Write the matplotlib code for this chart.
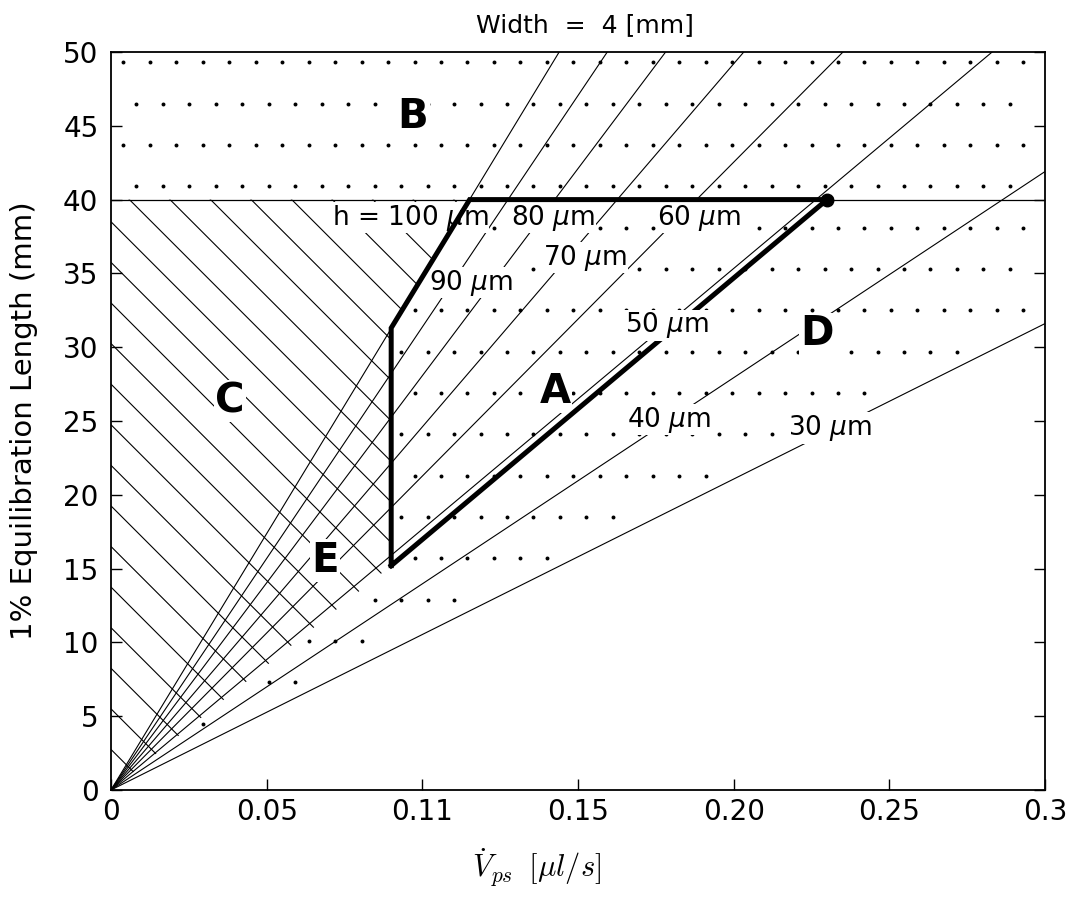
import numpy as np
import matplotlib
matplotlib.use('Agg')
import matplotlib.pyplot as plt
from matplotlib.collections import LineCollection
from matplotlib.patches import Polygon
from matplotlib.path import Path

plt.rcParams['font.family'] = 'DejaVu Sans'
plt.rcParams['mathtext.fontset'] = 'dejavusans'

# --------------------------------------------------
# DATA

# channel height of each line and the length it reaches at 0.3 ul/s
heights = [100, 90, 80, 70, 60, 50, 40, 30]
length_at_max = [104.2, 94.1, 84.2, 73.8, 63.8, 53.0, 41.9, 31.6]
flow_max = 0.3

# where each height label sits (flow, length at baseline)
label_flow = [0.096, 0.1156, 0.142, 0.1523, 0.189, 0.1786, 0.1792, 0.231]
label_len = [38.3, 33.9, 38.3, 35.6, 38.3, 31.0, 24.6, 24.05]

# length limit (horizontal line)
length_limit = 40

# operating window A (thick outline)
a_flow = [0.09, 0.09, 0.1152, 0.23, 0.09]
a_len = [15.2, 31.3, 40.0, 40.0, 15.2]

# hatched region C / E
hatch_flow = [0, 0.09, 0.09, 0.1152, 0]
hatch_len = [0, 15.2, 31.3, 40.0, 40.0]

# region letters
regions = ['A', 'B', 'C', 'D', 'E']
region_flow = [0.1426, 0.097, 0.0382, 0.2268, 0.0687]
region_len = [26.2, 44.85, 25.6, 30.15, 14.8]

xticks = [0, 0.05, 0.1, 0.15, 0.2, 0.25, 0.3]
xtick_labels = ['0', '0.05', '0.11', '0.15', '0.20', '0.25', '0.3']
yticks = list(range(0, 51, 5))

# --------------------------------------------------
# FIGURE

fig = plt.figure(figsize=(10.67, 9.17), dpi=100)
ax = fig.add_axes([0.1040, 0.1385, 0.8754, 0.8048])
ax.set_xlim(0, flow_max)
ax.set_ylim(0, 50)

# lines of constant height through the origin
for h, L in zip(heights, length_at_max):
    ax.plot([0, flow_max], [0, L], color='black', lw=0.8, zorder=2)

ax.axhline(length_limit, color='black', lw=0.9, zorder=2)

# diagonal hatch in C / E, clipped to the region
clip = Polygon(np.column_stack([hatch_flow, hatch_len]), closed=True,
               fill=False, edgecolor='none', transform=ax.transData)
ax.add_patch(clip)
k = 211.0  # slope giving 45 deg lines on screen
segs = [[(0, c), (c / k, 0)] for c in np.arange(2.75, 120, 2.75)]
lc = LineCollection(segs, colors='black', linewidths=0.8, zorder=1.5)
ax.add_collection(lc)
lc.set_clip_path(clip)

# stipple texture above the 30 um line, outside the hatch
gx, gy = [], []
for i, yy in enumerate(np.arange(49.3, 0, -2.8)):
    off = 0.0 if i % 2 == 0 else 0.0042
    for xx in np.arange(0.004 + off, 0.297, 0.0085):
        gx.append(xx)
        gy.append(yy)
gx = np.array(gx)
gy = np.array(gy)
hatch_path = Path(np.column_stack([hatch_flow, hatch_len]))
inside = hatch_path.contains_points(np.column_stack([gx, gy]))
keep = (gy > length_at_max[-1] / flow_max * gx + 0.8) & ~inside
ax.scatter(gx[keep], gy[keep], s=8, color='black', linewidths=0, zorder=1.5)

# operating window outline
ax.plot(a_flow, a_len, color='black', lw=3.6, solid_joinstyle='miter', zorder=5)
ax.plot([a_flow[3]], [a_len[3]], 'o', color='black', ms=9, zorder=7)

# height labels
for h, fx, fy in zip(heights, label_flow, label_len):
    txt = 'h = %d $\\mu$m' % h if h == 100 else '%d $\\mu$m' % h
    ax.text(fx, fy, txt, fontsize=19, ha='center', va='baseline',
            zorder=6 if h == 50 else 4,
            bbox=dict(facecolor='white', edgecolor='none', pad=0.3))

# region letters
for r, fx, fy in zip(regions, region_flow, region_len):
    ax.text(fx, fy, r, fontsize=29, fontweight='bold', ha='center', va='baseline',
            zorder=4, bbox=dict(facecolor='white', edgecolor='none', pad=1.0))

# axes styling
ax.set_xticks(xticks)
ax.set_xticklabels(xtick_labels)
ax.set_yticks(yticks)
ax.tick_params(direction='in', length=8, width=1, labelsize=20, right=True)
ax.tick_params(axis='x', pad=6)
ax.tick_params(axis='y', pad=9)
for s in ax.spines.values():
    s.set_linewidth(1.3)

fig.text(0.548, 1 - 32 / 917, 'Width  =  4 [mm]', fontsize=18, ha='center', va='baseline')
fig.text(0.0225, 0.541, '1% Equilibration Length (mm)', fontsize=21,
         rotation=90, ha='center', va='center')
fig.text(0.503, 1 - 877 / 917, r'$\dot{V}_{ps}\;\;[\mu l/s]$', fontsize=22,
         ha='center', va='baseline', math_fontfamily='cm')

fig.savefig('out.png', dpi=100)
